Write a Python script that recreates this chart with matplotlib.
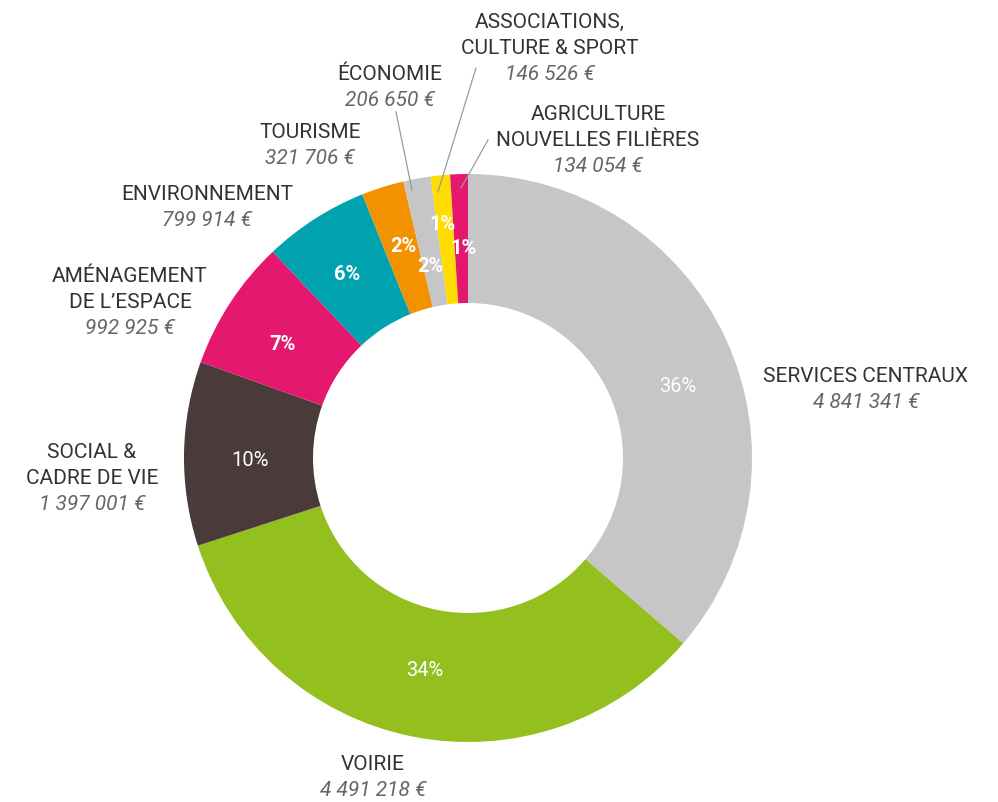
import matplotlib
matplotlib.use('Agg')
import matplotlib.pyplot as plt

# budget par domaine (euros)
categories = ['SERVICES CENTRAUX', 'VOIRIE', 'SOCIAL &\nCADRE DE VIE', 'AMÉNAGEMENT\nDE L\u2019ESPACE',
              'ENVIRONNEMENT', 'TOURISME', 'ÉCONOMIE', 'ASSOCIATIONS,\nCULTURE & SPORT',
              'AGRICULTURE\nNOUVELLES FILIÈRES']
amounts = [4841341, 4491218, 1397001, 992925, 799914, 321706, 206650, 146526, 134054]
amount_labels = ['4 841 341 €', '4 491 218 €', '1 397 001 €', '992 925 €', '799 914 €',
                 '321 706 €', '206 650 €', '146 526 €', '134 054 €']
pct_labels = ['36%', '34%', '10%', '7%', '6%', '2%', '2%', '1%', '1%']

colors = ['#c6c5c8', '#93c01f', '#4a3b3a', '#e5186f', '#00a2b0', '#f39200', '#c6c5c8', '#ffdd00', '#e5186f']

# layout (pixels)
cx, cy, R, r_in = 468, 458, 284, 155
name_pos = [(866, 377), (373, 765), (92, 453), (130, 277), (207, 195), (310, 133),
            (390, 75), (550, 22), (598, 115)]
pct_pos = [(678, 386), (425, 670), (250, 460), (283, 344), (347, 274), (403, 247),
           (430, 266), (443, 225), (464, 248)]
pct_bold = [False, False, False, True, True, True, True, True, True]
leaders = {6: ((396, 112), (412, 190)), 7: ((476, 68), (438, 192)), 8: ((488, 140), (461, 188))}

plt.rcParams['font.family'] = ['Roboto', 'DejaVu Sans']

fig = plt.figure(figsize=(9.98, 8.02), dpi=100)
ax = fig.add_axes([0, 0, 1, 1])
ax.pie(amounts, colors=colors, startangle=-90, counterclock=True, center=(cx, cy), radius=R,
       wedgeprops=dict(width=R - r_in, linewidth=0))
ax.set_xlim(0, 998)
ax.set_ylim(802, 0)
ax.set_aspect('equal')
ax.axis('off')

line_h = 26
for i, name in enumerate(categories):
    x, y = name_pos[i]
    n = name.count('\n') + 1
    for k, part in enumerate(name.split('\n')):
        ax.text(x, y + k * line_h, part, ha='center', va='center', fontsize=15, color='#333333')
    ax.text(x, y + n * line_h, amount_labels[i], ha='center', va='center', fontsize=15,
            color='#666666', style='italic')

for i, p in enumerate(pct_labels):
    x, y = pct_pos[i]
    ax.text(x, y, p, ha='center', va='center', fontsize=14.5, color='white',
            fontweight='bold' if pct_bold[i] else 'normal')

for i, (a, b) in leaders.items():
    ax.plot([a[0], b[0]], [a[1], b[1]], color='#9a9a9a', lw=0.9)

fig.savefig('out.png', dpi=100, facecolor='white')
